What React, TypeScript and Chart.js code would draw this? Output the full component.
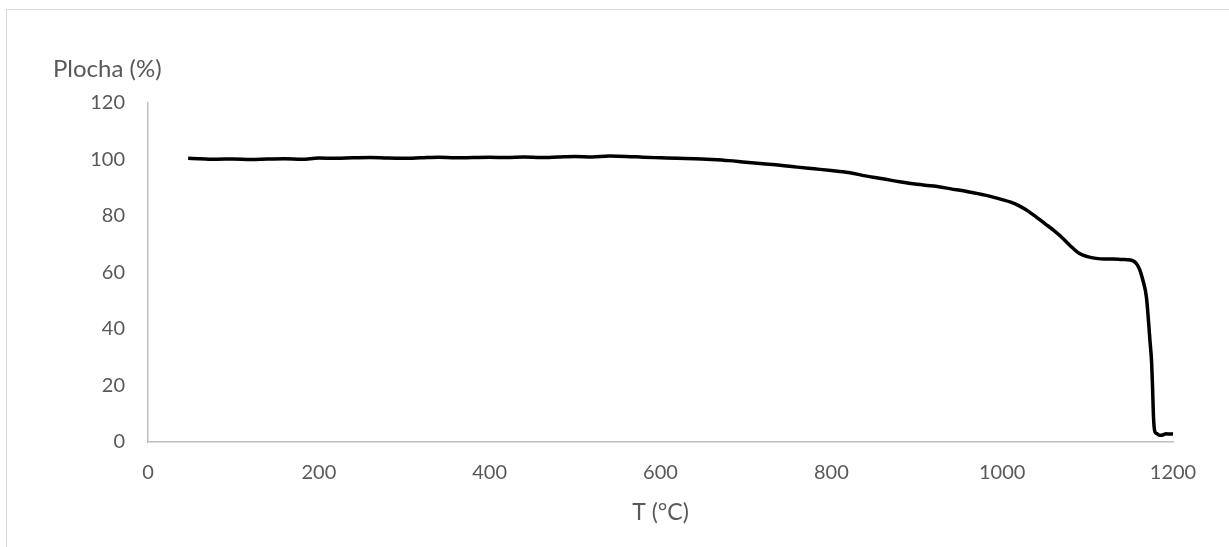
import React, { useEffect, useRef } from "react";
import { Chart, registerables } from "chart.js";

Chart.register(...registerables);

const temperatures = [
  47, 60, 80, 100, 120, 140, 160, 180, 200, 220, 240, 260, 280, 300, 320, 340,
  360, 380, 400, 420, 440, 460, 480, 500, 520, 540, 560, 580, 600, 620, 640,
  660, 680, 700, 720, 740, 760, 780, 800, 820, 840, 860, 880, 900, 920, 940,
  960, 980, 1000, 1010, 1020, 1030, 1040, 1050, 1060, 1070, 1080, 1090, 1100,
  1110, 1120, 1130, 1140, 1150, 1155, 1158, 1161, 1165, 1169, 1173, 1175, 1176,
  1177, 1178, 1179, 1181, 1184, 1188, 1192, 1196, 1200,
];

const areaPercent = [
  100.4, 100.3, 100.1, 100.2, 100.0, 100.2, 100.3, 100.1, 100.5, 100.4, 100.6,
  100.7, 100.5, 100.4, 100.6, 100.8, 100.6, 100.7, 100.8, 100.7, 100.9, 100.7,
  100.9, 101.1, 100.9, 101.2, 101.1, 100.8, 100.6, 100.4, 100.3, 100.0, 99.6,
  99.0, 98.5, 98.0, 97.3, 96.7, 96.1, 95.4, 94.2, 93.2, 92.1, 91.2, 90.6, 89.6,
  88.6, 87.4, 85.8, 84.9, 83.6, 81.8, 79.6, 77.3, 75.0, 72.4, 69.4, 66.8, 65.6,
  65.0, 64.8, 64.8, 64.6, 64.4, 63.8, 62.8, 61.0, 57.0, 51.0, 36.0, 28.0, 20.0,
  10.0, 5.0, 3.5, 3.0, 2.4, 2.5, 2.9, 2.8, 2.9,
];

const xTicks = [0, 200, 400, 600, 800, 1000, 1200];
const yTicks = [0, 20, 40, 60, 80, 100, 120];

const yTitle = "Plocha (%)";
const xTitle = "T (°C)";

const TEXT = "#595959";
const AXIS = "#bfbfbf";
const FONT = "Lato, 'Open Sans', sans-serif";

export default function App() {
  const ref = useRef<HTMLCanvasElement | null>(null);

  useEffect(() => {
    if (!ref.current) return;
    const titles = {
      id: "customTitles",
      afterDraw(chart: any) {
        const { ctx, chartArea } = chart;
        ctx.save();
        ctx.fillStyle = TEXT;
        ctx.font = `24px ${FONT}`;
        ctx.textBaseline = "middle";
        ctx.textAlign = "left";
        ctx.fillText(yTitle, 53, 69);
        ctx.textAlign = "center";
        ctx.font = `23px ${FONT}`;
        ctx.fillText(xTitle, (chartArea.left + chartArea.right) / 2, 513);
        ctx.restore();
      },
    };
    const chart = new Chart(ref.current, {
      type: "line",
      data: {
        datasets: [
          {
            data: temperatures.map((t, i) => ({ x: t, y: areaPercent[i] })),
            borderColor: "#000000",
            borderWidth: 3.5,
            pointRadius: 0,
            fill: false,
            cubicInterpolationMode: "monotone",
          },
        ],
      },
      options: {
        animation: false,
        responsive: false,
        layout: { padding: { left: 0, top: 103, right: 56, bottom: 0 } },
        plugins: { legend: { display: false }, tooltip: { enabled: false } },
        scales: {
          x: {
            type: "linear",
            min: 0,
            max: 1200,
            afterFit: (s: any) => {
              s.height = 105;
            },
            afterBuildTicks: (s: any) => {
              s.ticks = xTicks.map((v) => ({ value: v }));
            },
            grid: { display: false, drawTicks: false, tickLength: 0 },
            border: { display: true, color: AXIS, width: 1.5 },
            ticks: {
              color: TEXT,
              font: { family: FONT, size: 20 },
              padding: 19,
              maxRotation: 0,
              callback: (v: any) => String(v),
            },
          },
          y: {
            type: "linear",
            min: 0,
            max: 120,
            afterFit: (s: any) => {
              s.width = 148;
            },
            afterBuildTicks: (s: any) => {
              s.ticks = yTicks.map((v) => ({ value: v }));
            },
            grid: { display: false, drawTicks: false, tickLength: 0 },
            border: { display: true, color: AXIS, width: 1.5 },
            ticks: {
              color: TEXT,
              font: { family: FONT, size: 20 },
              padding: 23,
              callback: (v: any) => String(v),
            },
          },
        },
      },
      plugins: [titles],
    } as any);
    return () => chart.destroy();
  }, []);

  return (
    <div
      style={{
        position: "fixed",
        left: 0,
        top: 0,
        width: 1229,
        height: 547,
        background: "#ffffff",
        overflow: "hidden",
      }}
    >
      <div
        style={{
          position: "absolute",
          left: 6,
          top: 9,
          width: 1300,
          height: 600,
          borderLeft: "1.5px solid #d9d9d9",
          borderTop: "1.5px solid #d9d9d9",
          boxSizing: "border-box",
        }}
      />
      <canvas
        ref={ref}
        width={1229}
        height={547}
        style={{ position: "absolute", left: 0, top: 0, width: 1229, height: 547 }}
      />
    </div>
  );
}
